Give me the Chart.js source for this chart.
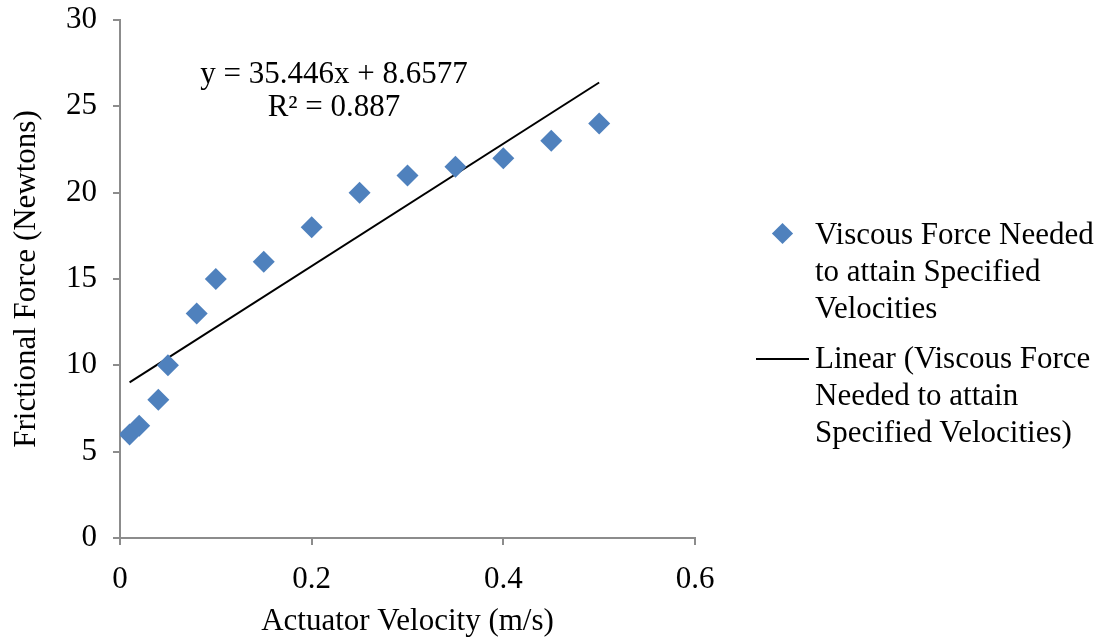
<!DOCTYPE html>
<html>
<head>
<meta charset="utf-8">
<script src="https://cdn.jsdelivr.net/npm/chart.js@4"></script>
<style>
  body { margin: 0; background: #fff; }
  #wrap { position: relative; width: 1109px; height: 638px; }
  #legend { position: absolute; left: 756px; top: 215px; font-family: "Liberation Serif", "Times New Roman", serif; font-size: 31px; line-height: 37px; color: #000; }
  .item { position: relative; padding-left: 59px; margin-bottom: 13px; white-space: nowrap; }
  .diamond { position: absolute; left: 19px; top: 11px; width: 15px; height: 15px; background: #4F81BD; transform: rotate(45deg); }
  .line { position: absolute; left: 0; top: 19px; width: 53px; height: 0; border-top: 2px solid #000; }
</style>
</head>
<body>
<div id="wrap">
  <canvas id="myChart" width="1109" height="638"></canvas>
  <div id="legend">
    <div class="item"><span class="diamond"></span>Viscous Force Needed<br>to attain Specified<br>Velocities</div>
    <div class="item"><span class="line"></span>Linear (Viscous Force<br>Needed to attain<br>Specified Velocities)</div>
  </div>
</div>
<script>
// data
const velocity = [0.01, 0.02, 0.04, 0.05, 0.08, 0.1, 0.15, 0.2, 0.25, 0.3, 0.35, 0.4, 0.45, 0.5];
const force = [6, 6.5, 8, 10, 13, 15, 16, 18, 20, 21, 21.5, 22, 23, 24];
// trendline end points (y = 35.446x + 8.6577)
const trendX = [0.01, 0.5];
const trendY = [9.01, 26.38];
const equationLines = ['y = 35.446x + 8.6577', 'R² = 0.887'];

const serif = '"Liberation Serif", "Times New Roman", serif';

const equationPlugin = {
  id: 'equation',
  afterDatasetsDraw(chart) {
    const ctx = chart.ctx;
    ctx.save();
    ctx.font = '31px ' + serif;
    ctx.fillStyle = '#000';
    ctx.textAlign = 'center';
    ctx.textBaseline = 'middle';
    ctx.fillText(equationLines[0], 334, 75);
    ctx.fillText(equationLines[1], 334, 108);
    ctx.restore();
  }
};

var ctx = document.getElementById('myChart').getContext('2d');
var myChart = new Chart(ctx, {
  type: 'scatter',
  data: {
    datasets: [{
      label: 'Viscous Force Needed to attain Specified Velocities',
      data: velocity.map((v, i) => ({ x: v, y: force[i] })),
      pointStyle: 'rectRot',
      pointRadius: 11,
      pointHoverRadius: 11,
      backgroundColor: '#4F81BD',
      borderColor: '#4F81BD',
      borderWidth: 0
    }, {
      label: 'Linear (Viscous Force Needed to attain Specified Velocities)',
      type: 'line',
      data: trendX.map((v, i) => ({ x: v, y: trendY[i] })),
      borderColor: '#000',
      borderWidth: 2,
      pointRadius: 0,
      fill: false
    }]
  },
  options: {
    responsive: false,
    animation: false,
    layout: { padding: { top: 20, right: 414, left: 0, bottom: 0 } },
    scales: {
      x: {
        type: 'linear',
        min: 0, max: 0.6,
        grid: { drawOnChartArea: false, color: '#8c8c8c', tickLength: 7, lineWidth: 2 },
        border: { color: '#8c8c8c', width: 2 },
        ticks: { stepSize: 0.2, color: '#000', font: { family: serif, size: 31 }, padding: 16,
                 callback: v => v === 0 ? '0' : v.toFixed(1) },
        title: { display: true, text: 'Actuator Velocity (m/s)', color: '#000', font: { family: serif, size: 31 }, padding: { top: 0, bottom: -2 } },
        afterFit: s => { s.height = 100; s.paddingLeft = 0; s.paddingRight = 0; }
      },
      y: {
        min: 0, max: 30,
        grid: { drawOnChartArea: false, color: '#8c8c8c', tickLength: 7, lineWidth: 2 },
        border: { color: '#8c8c8c', width: 2 },
        ticks: { stepSize: 5, color: '#000', font: { family: serif, size: 31 }, padding: 16 },
        title: { display: true, text: 'Frictional Force (Newtons)', color: '#000', font: { family: serif, size: 31 }, padding: { top: 8, bottom: 4 } },
        afterFit: s => { s.width = 120; s.paddingTop = 0; s.paddingBottom = 0; }
      }
    },
    plugins: {
      legend: { display: false },
      tooltip: { enabled: false }
    }
  },
  plugins: [equationPlugin]
});
</script>
</body>
</html>
